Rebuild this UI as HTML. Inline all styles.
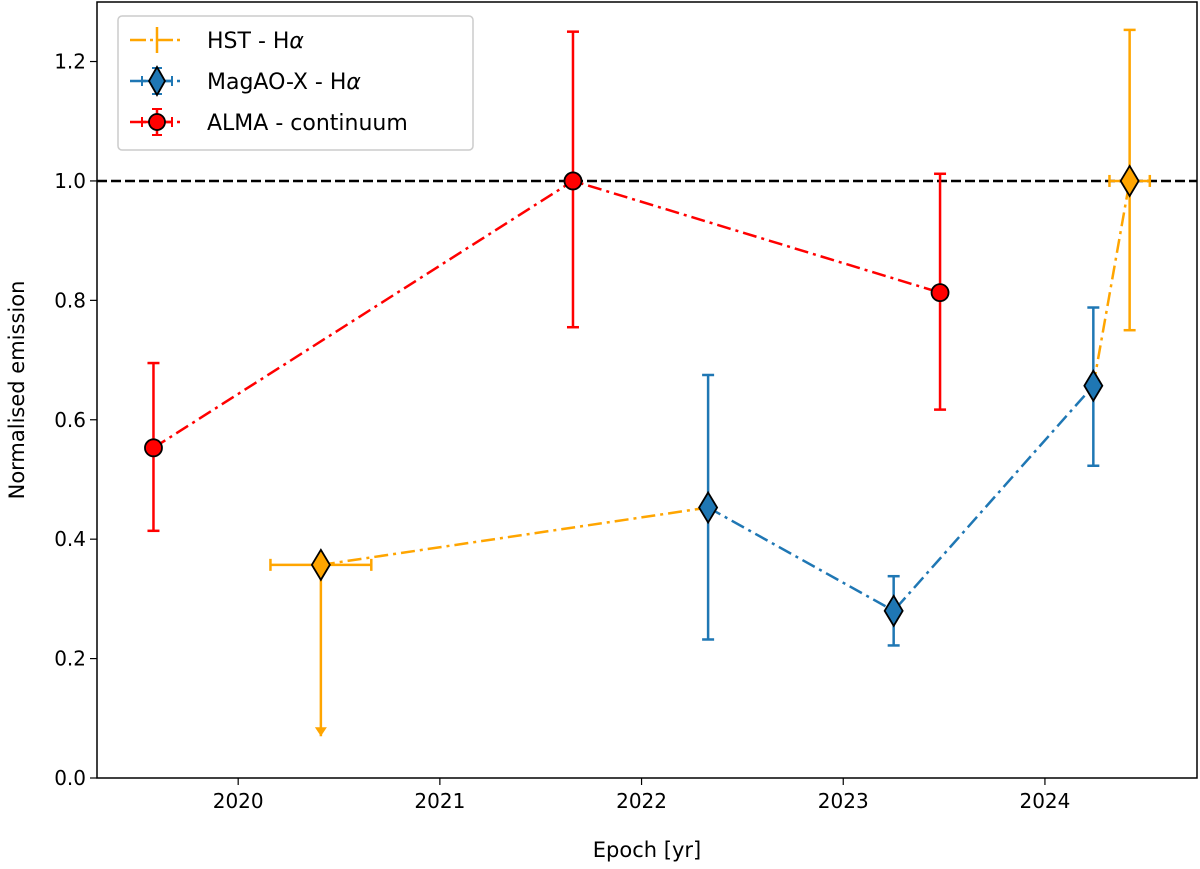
<!DOCTYPE html>
<html><head><meta charset="utf-8"><style>
body{margin:0;background:#fff;width:1200px;height:864px;overflow:hidden}
svg{font-family:"DejaVu Sans","Liberation Sans",sans-serif}
</style></head><body>
<svg id="chart" width="1200" height="864" xmlns="http://www.w3.org/2000/svg">
<g id="plot"></g>
</svg>
<script>
const almaX=[2019.58,2021.66,2023.48];
const almaY=[0.553,1.0,0.813];
const almaLo=[0.139,0.245,0.196];
const almaHi=[0.142,0.25,0.199];
const hstX=[2020.41,2024.42];
const hstY=[0.357,1.0];
const hstXerr=[0.25,0.1];
const hstLo=[0,0.25];
const hstHi=[0,0.253];
const magX=[2022.33,2023.25,2024.24];
const magY=[0.453,0.28,0.657];
const magLo=[0.221,0.058,0.134];
const magHi=[0.222,0.058,0.131];
const xTicks=[2020,2021,2022,2023,2024];
const yTicks=[0,0.2,0.4,0.6,0.8,1.0,1.2];
const L=97,R=1197,T=2,B=778;
const x0=2019.30,x1=2024.754,y0=0,y1=1.2997;
const sx=v=>L+(v-x0)/(x1-x0)*(R-L);
const sy=v=>B-(v-y0)/(y1-y0)*(B-T);
const NS='http://www.w3.org/2000/svg';
const g=document.getElementById('plot');
function el(tag,attrs,name,parent){const e=document.createElementNS(NS,tag);for(const k in attrs)e.setAttribute(k,attrs[k]);


(parent||g).appendChild(e);return e;}
const DD='14,5,3,5';
// reference line
el('line',{x1:L,x2:R,y1:sy(1),y2:sy(1),stroke:'#000','stroke-width':2.5,'stroke-dasharray':'10,4'},'reference-line-1');
// ticks
xTicks.forEach(t=>{el('line',{x1:sx(t),x2:sx(t),y1:B,y2:B+7,stroke:'#000','stroke-width':1.2},'x-tick');
const tx=el('text',{x:sx(t),y:B+30,'text-anchor':'middle','font-size':20},'x-tick-label');tx.textContent=t;});
yTicks.forEach(t=>{el('line',{x1:L-7,x2:L,y1:sy(t),y2:sy(t),stroke:'#000','stroke-width':1.2},'y-tick');
const tx=el('text',{x:L-11,y:sy(t)+7,'text-anchor':'end','font-size':20},'y-tick-label');tx.textContent=t.toFixed(1);});
const xl=el('text',{x:(L+R)/2,y:857,'text-anchor':'middle','font-size':21},'x-axis-title');xl.textContent='Epoch [yr]';
const yl=el('text',{x:0,y:0,'text-anchor':'middle','font-size':21,transform:`translate(24,${(T+B)/2}) rotate(-90)`},'y-axis-title');yl.textContent='Normalised emission';
// lines
const poly=(pts,c,n)=>el('polyline',{points:pts.map(p=>sx(p[0])+','+sy(p[1])).join(' '),fill:'none',stroke:c,'stroke-width':2.5,'stroke-dasharray':DD},n);
poly(almaX.map((v,i)=>[v,almaY[i]]),'#ff0000','alma-line');
poly([[hstX[0],hstY[0]],[magX[0],magY[0]]],'#ffa500','hst-line-1');
poly([[magX[2],magY[2]],[hstX[1],hstY[1]]],'#ffa500','hst-line-2');
poly(magX.map((v,i)=>[v,magY[i]]),'#1f77b4','magaox-line');
function vbar(x,lo,hi,c,n){el('line',{x1:sx(x),x2:sx(x),y1:sy(lo),y2:sy(hi),stroke:c,'stroke-width':2.5},n+'-errorbar');
[lo,hi].forEach(v=>el('line',{x1:sx(x)-6,x2:sx(x)+6,y1:sy(v),y2:sy(v),stroke:c,'stroke-width':2.5},n+'-errorcap'));}
function hbar(y,lo,hi,c,n){el('line',{x1:sx(lo),x2:sx(hi),y1:sy(y),y2:sy(y),stroke:c,'stroke-width':2.5},n+'-xerrorbar');
[lo,hi].forEach(v=>el('line',{x1:sx(v),x2:sx(v),y1:sy(y)-6,y2:sy(y)+6,stroke:c,'stroke-width':2.5},n+'-xerrorcap'));}
const diamond=(x,y,c,n)=>el('polygon',{points:`${x},${y-15} ${x+9},${y} ${x},${y+15} ${x-9},${y}`,fill:c,stroke:'#000','stroke-width':1.8},n);
// HST
hstX.forEach((v,i)=>{const c='#ffa500';
hbar(hstY[i],v-hstXerr[i],v+hstXerr[i],c,'hst');
if(i===0){const yt=0.07;el('line',{x1:sx(v),x2:sx(v),y1:sy(hstY[i]),y2:sy(yt),stroke:c,'stroke-width':2.5},'hst-upper-limit');
el('polygon',{points:`${sx(v)-6},${sy(yt)-9} ${sx(v)+6},${sy(yt)-9} ${sx(v)},${sy(yt)}`,fill:c},'hst-limit-arrow');}
else vbar(v,hstY[i]-hstLo[i],hstY[i]+hstHi[i],c,'hst');
diamond(sx(v),sy(hstY[i]),c,'hst-point');});
magX.forEach((v,i)=>{vbar(v,magY[i]-magLo[i],magY[i]+magHi[i],'#1f77b4','magaox');diamond(sx(v),sy(magY[i]),'#1f77b4','magaox-point');});
almaX.forEach((v,i)=>{vbar(v,almaY[i]-almaLo[i],almaY[i]+almaHi[i],'#ff0000','alma');
el('circle',{cx:sx(v),cy:sy(almaY[i]),r:8.5,fill:'#ff0000',stroke:'#000','stroke-width':1.8},'alma-point');});
// frame
el('rect',{x:L,y:T,width:R-L,height:B-T,fill:'none',stroke:'#000','stroke-width':1.5},'axes-frame');
// legend
const lg=el('g',{},'legend');
el('rect',{x:118,y:16,width:355,height:134,rx:4,fill:'#fff','fill-opacity':0.85,stroke:'#ccc','stroke-width':1.5},'legend-box',lg);
const items=[['HST - H','#ffa500','none'],['MagAO-X - H','#1f77b4','d'],['ALMA - continuum','#ff0000','c']];
items.forEach((it,i)=>{const y=40+i*41,c=it[1],e=el('g',{},'legend-entry',lg);
el('line',{x1:130,x2:183,y1:y,y2:y,stroke:c,'stroke-width':2.5,'stroke-dasharray':'16,4,3,4'},'legend-line',e);
el('line',{x1:157,x2:157,y1:y-13,y2:y+13,stroke:c,'stroke-width':2.5},'legend-errorbar',e);
if(it[2]!=='none'){el('line',{x1:142,x2:172,y1:y,y2:y,stroke:c,'stroke-width':2.5},'legend-xerr',e);
[142,172].forEach(xx=>el('line',{x1:xx,x2:xx,y1:y-5,y2:y+5,stroke:c,'stroke-width':2},'legend-cap',e));
[y-13,y+13].forEach(yy=>el('line',{x1:152,x2:162,y1:yy,y2:yy,stroke:c,'stroke-width':2},'legend-cap',e));}
if(it[2]==='d')el('polygon',{points:`157,${y-14} 165,${y} 157,${y+14} 149,${y}`,fill:c,stroke:'#000','stroke-width':1.8},'legend-marker',e);
if(it[2]==='c')el('circle',{cx:157,cy:y,r:8,fill:c,stroke:'#000','stroke-width':1.8},'legend-marker',e);
const t=el('text',{x:207,y:y+8,'font-size':22},'legend-label',e);t.textContent=it[0];
if(it[2]!=='c'){const ts=document.createElementNS(NS,'tspan');ts.setAttribute('font-style','italic');ts.textContent='α';t.appendChild(ts);}});
</script>
</body></html>
